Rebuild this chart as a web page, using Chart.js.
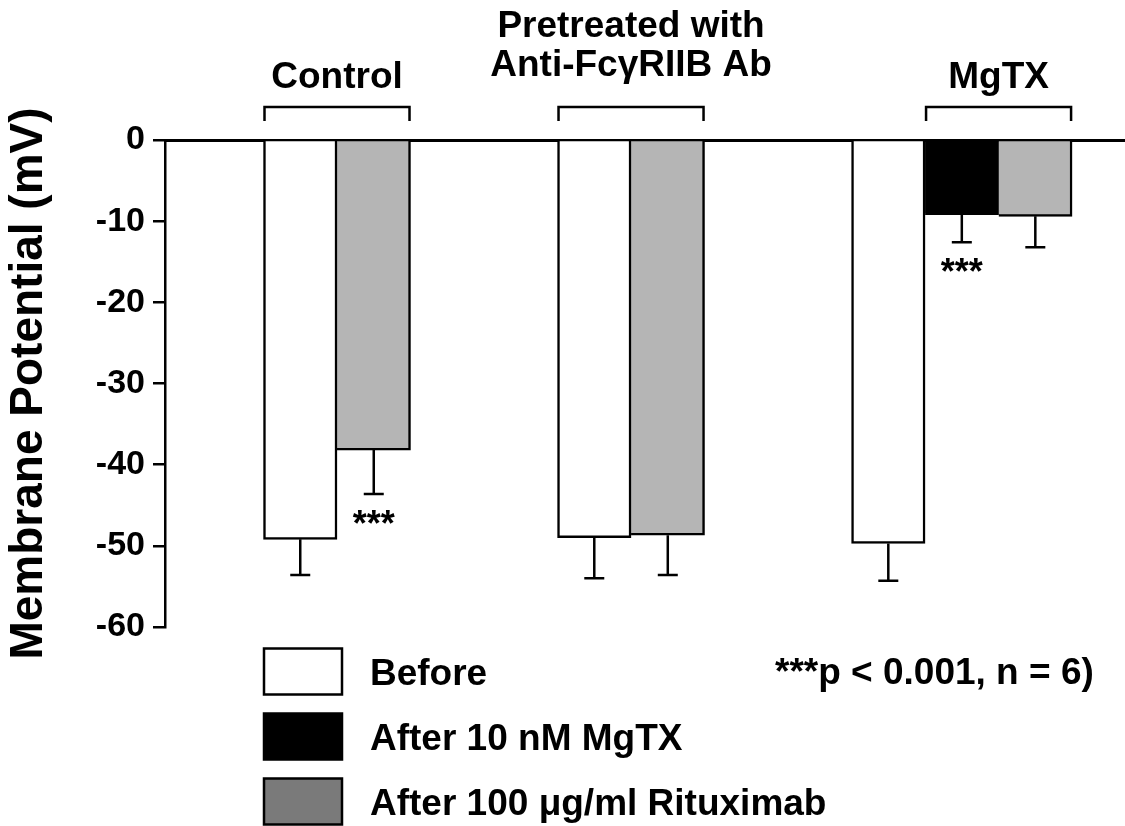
<!DOCTYPE html>
<html>
<head>
<meta charset="utf-8">
<script src="https://cdn.jsdelivr.net/npm/chart.js@4.4.1/dist/chart.umd.min.js"></script>
<style>
    html, body { margin: 0; padding: 0; background: #fff; }
    #wrap { width: 1125px; height: 826px; }
</style>
</head>
<body>
<div id="wrap"><canvas id="chart" width="1125" height="826"></canvas></div>
<script>
// data
const groups = [['Control'], ['Pretreated with', 'Anti-FcγRIIB Ab'], ['MgTX']];
const seriesNames = ['Before', 'After 10 nM MgTX', 'After 100 μg/ml Rituximab'];
const before = [-49.2, -49.0, -49.7];
const beforeErr = [4.4, 5.0, 4.6];
const mgtx = [null, null, -9.2];
const mgtxErr = [null, null, 3.4];
const ritux = [-38.2, -48.7, -9.4];
const rituxErr = [5.4, 4.9, 3.8];
const mgtxSig = ['', '', '***'];
const rituxSig = ['***', '', ''];
const yTicks = [0, -10, -20, -30, -40, -50, -60];
const yTitle = 'Membrane Potential (mV)';
const pNote = '***p < 0.001, n = 6)';

const FONT = '"Liberation Sans", Arial, Helvetica, sans-serif';
const barFills = ['#ffffff', '#000000', '#b5b5b5'];
const legendFills = ['#ffffff', '#000000', '#7a7a7a'];
const bracketFirst = [0, 0, 1];   // first series under each group's bracket
const SLOTS_PER_GROUP = 4;

const seriesValues = [before, mgtx, ritux];
const seriesErr = [beforeErr, mgtxErr, rituxErr];
const seriesSig = [['', '', ''], mgtxSig, rituxSig];

// bars of a group sit side by side, skipping missing series
const slotOf = seriesValues.map(() => []);
groups.forEach((g, gi) => {
    let k = 0;
    seriesValues.forEach((vals, si) => {
        if (vals[gi] !== null) slotOf[si][gi] = gi * SLOTS_PER_GROUP + k++;
    });
});

const datasets = seriesValues.map((vals, si) => ({
    label: seriesNames[si],
    data: groups.map((g, gi) => vals[gi] === null ? null : { x: slotOf[si][gi], y: vals[gi], g: gi }).filter(Boolean),
    backgroundColor: barFills[si],
    borderColor: '#000',
    borderSkipped: false,
    borderWidth: c => ({ top: 0, right: 2.5, bottom: 2.5, left: c.raw && c.raw.x % SLOTS_PER_GROUP === 0 ? 2.5 : 0 }),
    barPercentage: 1,
    categoryPercentage: 1,
    grouped: false
}));

const decorations = {
    id: 'decorations',
    afterDatasetsDraw(chart) {
        const ctx = chart.ctx;
        const y = chart.scales.y;
        ctx.save();
        ctx.strokeStyle = '#000';
        ctx.fillStyle = '#000';
        ctx.lineWidth = 2.5;

        // error bars (downward) and significance marks
        const byGroup = groups.map(() => []);
        chart.data.datasets.forEach((ds, si) => {
            chart.getDatasetMeta(si).data.forEach((bar, i) => {
                const g = ds.data[i].g;
                byGroup[g].push({ si, bar });
                const low = y.getPixelForValue(seriesValues[si][g] - seriesErr[si][g]);
                ctx.beginPath();
                ctx.moveTo(bar.x, bar.y);
                ctx.lineTo(bar.x, low);
                ctx.moveTo(bar.x - 10, low);
                ctx.lineTo(bar.x + 10, low);
                ctx.stroke();
                const sig = seriesSig[si][g];
                if (sig) {
                    ctx.font = 'bold 36px ' + FONT;
                    ctx.textAlign = 'center';
                    ctx.textBaseline = 'alphabetic';
                    ctx.fillText(sig, bar.x, low + 42);
                }
            });
        });

        // brackets and group labels
        byGroup.forEach((items, gi) => {
            const under = items.filter(it => it.si >= bracketFirst[gi]);
            const left = Math.min(...under.map(it => it.bar.x - it.bar.width / 2)) + 1;
            const right = Math.max(...under.map(it => it.bar.x + it.bar.width / 2)) - 1;
            ctx.beginPath();
            ctx.moveTo(left, 121);
            ctx.lineTo(left, 107);
            ctx.lineTo(right, 107);
            ctx.lineTo(right, 121);
            ctx.stroke();
            const lines = groups[gi];
            const last = lines.length > 1 ? 76 : 88;
            ctx.font = 'bold 37px ' + FONT;
            ctx.textAlign = 'center';
            ctx.textBaseline = 'alphabetic';
            lines.forEach((t, li) => {
                ctx.fillText(t, (left + right) / 2, last - (lines.length - 1 - li) * 39);
            });
        });

        // legend
        ctx.font = 'bold 37px ' + FONT;
        ctx.textAlign = 'left';
        seriesNames.forEach((name, si) => {
            const cy = 671.5 + si * 65;
            ctx.fillStyle = legendFills[si];
            ctx.fillRect(264, cy - 23, 78, 46);
            ctx.strokeRect(264, cy - 23, 78, 46);
            ctx.fillStyle = '#000';
            ctx.fillText(name, 370, cy + 13);
        });
        ctx.fillText(pNote, 775, 684);
        ctx.restore();
    }
};

new Chart(document.getElementById('chart'), {
    type: 'bar',
    data: { datasets: datasets },
    options: {
        responsive: false,
        animation: false,
        devicePixelRatio: 1,
        layout: { padding: { top: 140, bottom: 199, left: 0, right: 0 } },
        plugins: { legend: { display: false }, tooltip: { enabled: false } },
        scales: {
            x: {
                type: 'linear',
                position: 'top',
                min: -1.84,
                max: 11.22,
                offset: false,
                z: 1,
                grid: { display: false },
                ticks: { display: false },
                border: { color: '#000', width: 3 },
                afterBuildTicks: s => { s.ticks = []; },
                afterFit: s => { s.height = 0; }
            },
            y: {
                min: -60,
                max: 0,
                afterBuildTicks: s => { s.ticks = yTicks.map(v => ({ value: v })); },
                afterFit: s => { s.width = 165; },
                ticks: {
                    color: '#000',
                    padding: 8,
                    autoSkip: false,
                    font: { family: FONT, size: 34, weight: 'bold' }
                },
                grid: { drawOnChartArea: false, drawTicks: true, tickLength: 12, color: '#000', lineWidth: 2.5 },
                border: { color: '#000', width: 2.5 },
                title: {
                    display: true,
                    text: yTitle,
                    color: '#000',
                    padding: { top: 2, bottom: 0 },
                    font: { family: FONT, size: 46, weight: 'bold' }
                }
            }
        }
    },
    plugins: [decorations]
});
</script>
</body>
</html>
